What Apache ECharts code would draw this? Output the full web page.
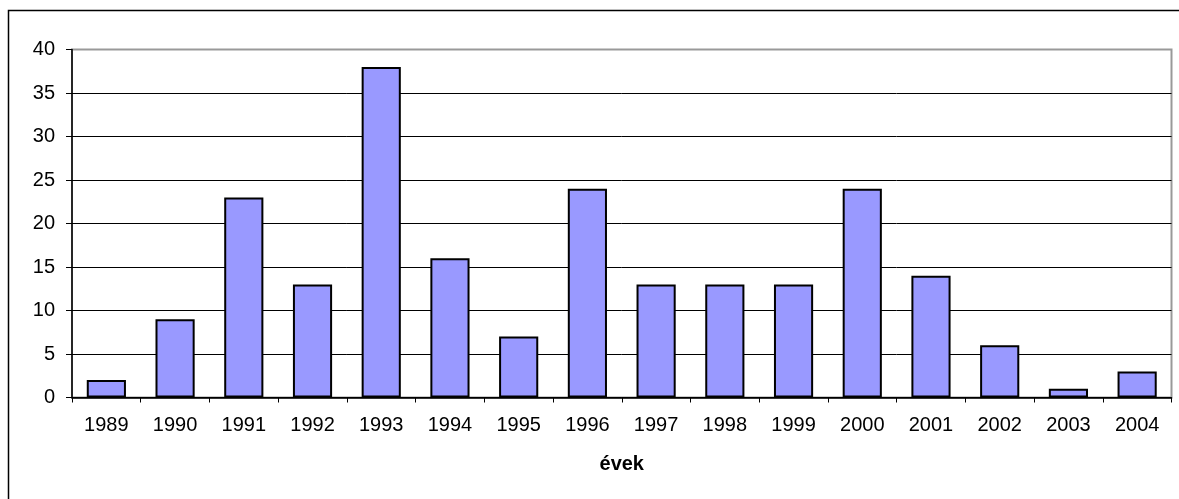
<!doctype html>
<html>
<head>
<meta charset="utf-8">
<title>évek</title>
<style>
html,body{margin:0;padding:0;background:#fff;}
#chart{width:1179px;height:499px;}
</style>
</head>
<body>
<div id="chart"></div>
<script src="https://cdn.jsdelivr.net/npm/echarts@6/dist/echarts.min.js"></script>
<script>
// adatok
var years = ['1989','1990','1991','1992','1993','1994','1995','1996','1997','1998','1999','2000','2001','2002','2003','2004'];
var counts = [2, 9, 23, 13, 38, 16, 7, 24, 13, 13, 13, 24, 14, 6, 1, 3];
var yMax = 40;
var yStep = 5;

var chart = echarts.init(document.getElementById('chart'));
var font = 'Liberation Sans, Arial, sans-serif';
var option = {
	animation: false,
	backgroundColor: '#fff',
	textStyle: { fontFamily: font },
	graphic: [{
		type: 'rect',
		shape: { x: 8.5, y: 10.5, width: 1200, height: 600 },
		style: { fill: 'none', stroke: '#000', lineWidth: 1.5 },
		silent: true
	}],
	grid: {
		left: 72,
		top: 49.5,
		right: 7.5,
		bottom: 101.5,
		show: true,
		borderColor: '#999',
		borderWidth: 2,
		containLabel: false
	},
	xAxis: {
		type: 'category',
		data: years,
		name: 'évek',
		nameLocation: 'middle',
		nameGap: 57,
		nameTextStyle: { color: '#000', fontSize: 20, fontWeight: 'bold', fontFamily: font },
		axisLine: { show: true, lineStyle: { color: '#000', width: 1.5 } },
		axisTick: { show: true, alignWithLabel: false, length: 5, lineStyle: { color: '#000' } },
		axisLabel: { color: '#000', fontSize: 20, margin: 18, fontFamily: font, interval: 0 }
	},
	yAxis: {
		type: 'value',
		min: 0,
		max: yMax,
		interval: yStep,
		axisLine: { show: true, lineStyle: { color: '#000', width: 1.5 } },
		axisTick: { show: true, length: 6, lineStyle: { color: '#000' } },
		axisLabel: { color: '#000', fontSize: 20, margin: 17, fontFamily: font },
		splitLine: {
			show: true,
			lineStyle: { color: ['#000','#000','#000','#000','#000','#000','#000','#000','#999'], width: 1 }
		}
	},
	series: [{
		type: 'bar',
		data: counts,
		barWidth: '57%',
		itemStyle: { color: '#9999FF', borderColor: '#000', borderWidth: 2 }
	}]
};
chart.setOption(option);
</script>
</body>
</html>
